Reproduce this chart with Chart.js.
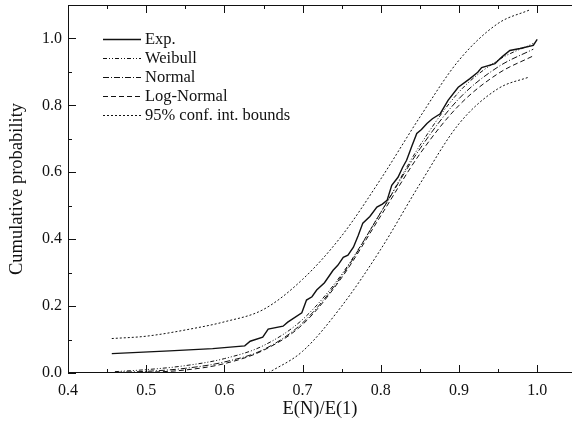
<!DOCTYPE html>
<html>
<head>
<meta charset="utf-8">
<script src="https://cdn.jsdelivr.net/npm/chart.js@4"></script>
<style>
  html, body { margin: 0; padding: 0; background: #fff; }
  #wrap { width: 572px; height: 427px; }
</style>
</head>
<body>
<div id="wrap"><canvas id="elementCdfChart"></canvas></div>
<script>
// empirical cdf (Exp.)
var expX = [0.456, 0.53, 0.585, 0.626, 0.633, 0.649, 0.656, 0.675, 0.681, 0.699, 0.705, 0.712, 0.718, 0.728, 0.739, 0.745, 0.752, 0.758, 0.765, 0.771, 0.777, 0.786, 0.795, 0.802, 0.808, 0.814, 0.822, 0.828, 0.833, 0.840, 0.846, 0.852, 0.859, 0.866, 0.876, 0.886, 0.899, 0.914, 0.924, 0.929, 0.946, 0.955, 0.965, 0.978, 0.995, 1.0];
var expY = [0.058, 0.066, 0.073, 0.081, 0.095, 0.107, 0.131, 0.140, 0.152, 0.180, 0.218, 0.228, 0.248, 0.270, 0.307, 0.322, 0.346, 0.352, 0.376, 0.410, 0.448, 0.468, 0.496, 0.505, 0.516, 0.561, 0.585, 0.615, 0.636, 0.680, 0.716, 0.728, 0.746, 0.760, 0.775, 0.815, 0.854, 0.880, 0.899, 0.913, 0.925, 0.945, 0.964, 0.970, 0.979, 0.997];

// fitted distributions
var fitX = [0.46, 0.50, 0.55, 0.60, 0.65, 0.70, 0.75, 0.80, 0.85, 0.90, 0.95, 0.995];
var weibullY = [0.004, 0.010, 0.022, 0.043, 0.082, 0.160, 0.295, 0.480, 0.680, 0.840, 0.935, 0.985];
var normalY = [0.002, 0.005, 0.014, 0.033, 0.070, 0.150, 0.290, 0.480, 0.670, 0.820, 0.915, 0.968];
var logNormalY = [0.000, 0.002, 0.009, 0.028, 0.068, 0.145, 0.285, 0.470, 0.655, 0.800, 0.895, 0.948];

// 95% confidence bounds
var upperX = [0.456, 0.50, 0.56, 0.60, 0.65, 0.70, 0.75, 0.80, 0.85, 0.90, 0.95, 0.99];
var upperY = [0.103, 0.110, 0.133, 0.153, 0.190, 0.280, 0.410, 0.580, 0.765, 0.935, 1.045, 1.085];
var lowerX = [0.656, 0.70, 0.75, 0.80, 0.85, 0.90, 0.95, 0.99];
var lowerY = [0.000, 0.065, 0.200, 0.370, 0.565, 0.745, 0.850, 0.885];

var xTicks = [0.4, 0.5, 0.6, 0.7, 0.8, 0.9, 1.0];
var xMinorTicks = [0.45, 0.55, 0.65, 0.75, 0.85, 0.95, 1.05];
var yTicks = [0.0, 0.2, 0.4, 0.6, 0.8, 1.0];
var yMinorTicks = [0.1, 0.3, 0.5, 0.7, 0.9];

var legendLabels = ["Exp.", "Weibull", "Normal", "Log-Normal", "95% conf. int. bounds"];

var serif = "'Liberation Serif', 'Times New Roman', serif";

function pts(xs, ys) {
    return xs.map(function (v, i) { return {x: v, y: ys[i]}; });
}

// ticks pointing inward + frame
var frameTicks = {
    id: 'frameTicks',
    afterDatasetsDraw: function (chart) {
        var ctx = chart.ctx, a = chart.chartArea;
        var xs = chart.scales.x, ys = chart.scales.y;
        ctx.save();
        ctx.strokeStyle = '#111';
        ctx.lineWidth = 1;
        ctx.setLineDash([]);
        ctx.beginPath();
        ctx.moveTo(a.right, a.top + 0.5);
        ctx.lineTo(a.left + 0.5, a.top + 0.5);
        ctx.lineTo(a.left + 0.5, a.bottom - 0.5);
        ctx.lineTo(a.right, a.bottom - 0.5);
        function xt(v, len) {
            var p = Math.round(xs.getPixelForValue(v)) + 0.5;
            if (p > a.right) return;
            ctx.moveTo(p, a.bottom); ctx.lineTo(p, a.bottom - len);
            ctx.moveTo(p, a.top); ctx.lineTo(p, a.top + len);
        }
        function yt(v, len) {
            var p = Math.round(ys.getPixelForValue(v)) + 0.5;
            ctx.moveTo(a.left, p); ctx.lineTo(a.left + len, p);
        }
        xTicks.forEach(function (v) { xt(v, 8); });
        xMinorTicks.forEach(function (v) { xt(v, 4); });
        yTicks.forEach(function (v) { yt(v, 8); });
        yMinorTicks.forEach(function (v) { yt(v, 4); });
        ctx.stroke();
        ctx.restore();
    }
};

// legend in the top-left corner of the plot
var innerLegend = {
    id: 'innerLegend',
    afterDraw: function (chart) {
        var ctx = chart.ctx;
        ctx.save();
        ctx.font = '16.5px ' + serif;
        ctx.textBaseline = 'middle';
        ctx.fillStyle = '#111';
        legendLabels.forEach(function (label, i) {
            var ds = chart.data.datasets[i];
            var y = Math.round(38.5 + i * 19.2) + 0.5;
            ctx.strokeStyle = ds.borderColor;
            ctx.lineWidth = ds.borderWidth;
            ctx.setLineDash(ds.borderDash || []);
            ctx.beginPath();
            ctx.moveTo(103, y);
            ctx.lineTo(141, y);
            ctx.stroke();
            ctx.fillText(label, 145, y);
        });
        ctx.restore();
    }
};

function lineSet(label, data, dash, width, smooth) {
    return {
        label: label,
        data: data,
        showLine: true,
        borderColor: '#111',
        backgroundColor: '#111',
        borderWidth: width,
        borderDash: dash,
        pointRadius: 0,
        fill: false,
        tension: 0,
        cubicInterpolationMode: smooth ? 'monotone' : 'default'
    };
}

var cdfChart = new Chart(document.getElementById('elementCdfChart'), {
    type: 'scatter',
    data: {
        datasets: [
            lineSet(legendLabels[0], pts(expX, expY), [], 1.4, false),
            lineSet(legendLabels[1], pts(fitX, weibullY), [4, 2, 1, 2, 1, 2], 1, true),
            lineSet(legendLabels[2], pts(fitX, normalY), [6, 2, 1, 2], 1, true),
            lineSet(legendLabels[3], pts(fitX, logNormalY), [5, 3], 1, true),
            lineSet(legendLabels[4], pts(upperX, upperY), [2, 2], 1, true),
            lineSet('', pts(lowerX, lowerY), [2, 2], 1, true)
        ]
    },
    options: {
        responsive: true,
        maintainAspectRatio: false,
        animation: false,
        layout: { padding: { top: 5, right: 0, left: 0, bottom: 0 } },
        plugins: {
            legend: { display: false },
            tooltip: { enabled: false }
        },
        scales: {
            x: {
                type: 'linear',
                min: 0.4,
                max: 1.0445,
                grid: { display: false, tickLength: 0 },
                border: { display: false },
                afterBuildTicks: function (s) { s.ticks = xTicks.map(function (v) { return {value: v}; }); },
                afterFit: function (s) { s.height = 54; s.paddingLeft = 0; s.paddingRight = 0; },
                ticks: {
                    padding: 8,
                    color: '#111',
                    font: { family: serif, size: 16 },
                    maxRotation: 0,
                    callback: function (v) { return v.toFixed(1); }
                },
                title: {
                    display: true,
                    text: 'E(N)/E(1)',
                    color: '#111',
                    font: { family: serif, size: 18.5 },
                    padding: { top: 2, bottom: 7 }
                }
            },
            y: {
                type: 'linear',
                min: 0,
                max: 1.1,
                grid: { display: false, tickLength: 0 },
                border: { display: false },
                afterBuildTicks: function (s) { s.ticks = yTicks.map(function (v) { return {value: v}; }); },
                afterFit: function (s) { s.width = 68; s.paddingTop = 0; s.paddingBottom = 0; },
                ticks: {
                    padding: 6,
                    color: '#111',
                    font: { family: serif, size: 16 },
                    callback: function (v) { return v.toFixed(1); }
                },
                title: {
                    display: true,
                    text: 'Cumulative probability',
                    color: '#111',
                    font: { family: serif, size: 18.5 },
                    padding: { top: 6, bottom: 0 }
                }
            }
        }
    },
    plugins: [frameTicks, innerLegend]
});
</script>
</body>
</html>
